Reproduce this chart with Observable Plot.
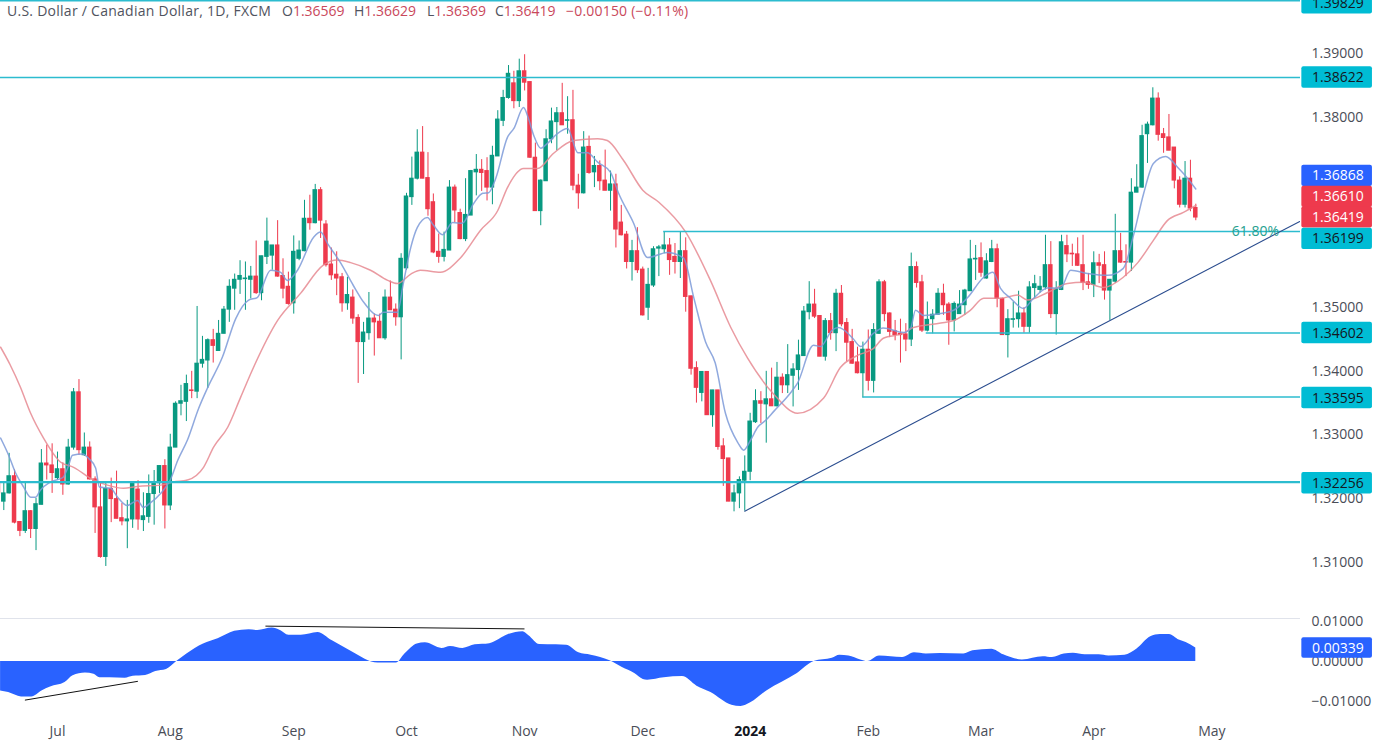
<!DOCTYPE html>
<html>
<head>
<meta charset="utf-8">
<script src="https://cdn.jsdelivr.net/npm/d3@7"></script>
<script src="https://cdn.jsdelivr.net/npm/@observablehq/plot@0.6"></script>
<style>
html,body{margin:0;padding:0;background:#fff;overflow:hidden}
#wrap{position:relative;width:1374px;height:745px}
#wrap svg{display:block;background:transparent}
#legend{position:absolute;left:0;top:0;width:720px;height:22px;font:14px "Open Sans",sans-serif;color:#50535e;white-space:pre;line-height:22px}
#legend span{position:absolute;top:0}
#legend b{font-weight:400;color:#c9485b}
</style>
</head>
<body>
<div id="wrap">
<div id="main"></div>
<div id="osc"></div>
<div id="legend"></div>
</div>
<script>
const open=[1.3224,1.3195,1.3208,1.3235,1.3163,1.3149,1.3180,1.3152,1.3190,1.3255,
1.3252,1.3232,1.3246,1.3222,1.3280,1.3367,1.3268,1.3280,1.3230,1.3186,
1.3108,1.3215,1.3199,1.3169,1.3164,1.3167,1.3214,1.3166,1.3171,1.3207,
1.3224,1.3251,1.3189,1.3280,1.3349,1.3352,1.3370,1.3368,1.3412,1.3417,
1.3449,1.3432,1.3459,1.3497,1.3530,1.3544,1.3545,1.3544,1.3549,1.3523,
1.3580,1.3582,1.3598,1.3550,1.3533,1.3507,1.3577,1.3589,1.3640,1.3633,
1.3685,1.3631,1.3568,1.3552,1.3548,1.3507,1.3516,1.3484,1.3446,1.3460,
1.3483,1.3478,1.3452,1.3516,1.3497,1.3485,1.3562,1.3674,1.3703,1.3744,
1.3704,1.3666,1.3588,1.3580,1.3590,1.3689,1.3649,1.3608,1.3645,1.3713,
1.3717,1.3715,1.3689,1.3738,1.3794,1.3830,1.3853,1.3825,1.3872,1.3855,
1.3736,1.3652,1.3699,1.3765,1.3792,1.3806,1.3794,1.3795,1.3692,1.3680,
1.3753,1.3713,1.3723,1.3700,1.3684,1.3694,1.3634,1.3615,1.3572,1.3589,
1.3560,1.3500,1.3535,1.3593,1.3592,1.3598,1.3580,1.3572,1.3589,1.3518,
1.3405,1.3366,1.3399,1.3331,1.3370,1.3282,1.3263,1.3195,1.3208,1.3228,
1.3242,1.3320,1.3353,1.3348,1.3356,1.3345,1.3390,1.3378,1.3393,1.3402,
1.3424,1.3493,1.3505,1.3487,1.3423,1.3479,1.3460,1.3522,1.3476,1.3446,
1.3414,1.3397,1.3434,1.3385,1.3459,1.3540,1.3491,1.3463,1.3459,1.3458,
1.3450,1.3564,1.3540,1.3464,1.3482,1.3489,1.3522,1.3505,1.3480,1.3490,
1.3504,1.3526,1.3576,1.3578,1.3546,1.3572,1.3592,1.3514,1.3457,1.3481,
1.3482,1.3491,1.3470,1.3531,1.3528,1.3532,1.3567,1.3490,1.3528,1.3597,
1.3585,1.3584,1.3567,1.3540,1.3536,1.3570,1.3567,1.3527,1.3541,1.3589,
1.3572,1.3571,1.3681,1.3689,1.3773,1.3787,1.3829,1.3773,1.3768,1.3752,
1.3700,1.3662,1.3703,1.36569];
const close=[1.3208,1.3208,1.3235,1.3162,1.3149,1.3180,1.3152,1.3191,1.3255,1.3252,
1.3240,1.3246,1.3222,1.3280,1.3367,1.3276,1.3280,1.3230,1.3186,1.3108,
1.3215,1.3199,1.3168,1.3164,1.3167,1.3223,1.3167,1.3172,1.3207,1.3225,
1.3251,1.3189,1.3280,1.3349,1.3353,1.3380,1.3369,1.3412,1.3418,1.3449,
1.3440,1.3459,1.3497,1.3533,1.3544,1.3550,1.3546,1.3549,1.3523,1.3581,
1.3604,1.3598,1.3549,1.3530,1.3506,1.3588,1.3590,1.3640,1.3633,1.3685,
1.3637,1.3567,1.3551,1.3546,1.3507,1.3520,1.3483,1.3446,1.3461,1.3483,
1.3477,1.3452,1.3516,1.3496,1.3485,1.3577,1.3675,1.3703,1.3744,1.3703,
1.3655,1.3587,1.3580,1.3591,1.3689,1.3653,1.3608,1.3646,1.3715,1.3717,
1.3712,1.3689,1.3739,1.3796,1.3830,1.3868,1.3825,1.3872,1.3854,1.3736,
1.3652,1.3700,1.3765,1.3793,1.3806,1.3787,1.3795,1.3692,1.3680,1.3752,
1.3712,1.3723,1.3699,1.3684,1.3694,1.3623,1.3614,1.3572,1.3589,1.3559,
1.3488,1.3536,1.3592,1.3595,1.3598,1.3575,1.3572,1.3589,1.3517,1.3404,
1.3374,1.3399,1.3331,1.3370,1.3281,1.3262,1.3195,1.3208,1.3229,1.3242,
1.3321,1.3353,1.3349,1.3356,1.3345,1.3390,1.3378,1.3394,1.3403,1.3425,
1.3494,1.3505,1.3486,1.3423,1.3479,1.3460,1.3522,1.3474,1.3445,1.3412,
1.3397,1.3434,1.3385,1.3465,1.3540,1.3490,1.3462,1.3457,1.3457,1.3450,
1.3564,1.3539,1.3464,1.3481,1.3489,1.3522,1.3504,1.3480,1.3506,1.3505,
1.3527,1.3576,1.3577,1.3555,1.3573,1.3592,1.3514,1.3457,1.3482,1.3482,
1.3491,1.3470,1.3532,1.3537,1.3533,1.3567,1.3490,1.3529,1.3603,1.3584,
1.3584,1.3566,1.3539,1.3536,1.3570,1.3566,1.3527,1.3544,1.3589,1.3571,
1.3571,1.3681,1.3689,1.3770,1.3788,1.3829,1.3772,1.3767,1.3747,1.3700,
1.3662,1.3703,1.3656,1.36419];
const high=[1.3239,1.3224,1.3271,1.3245,1.3163,1.3226,1.3181,1.3200,1.3277,1.3284,
1.3286,1.3273,1.3256,1.3293,1.3373,1.3387,1.3303,1.3289,1.3234,1.3224,
1.3225,1.3232,1.3243,1.3192,1.3197,1.3226,1.3228,1.3209,1.3237,1.3244,
1.3251,1.3261,1.3301,1.3352,1.3378,1.3394,1.3400,1.3502,1.3455,1.3451,
1.3466,1.3480,1.3502,1.3544,1.3553,1.3574,1.3572,1.3565,1.3605,1.3581,
1.3641,1.3598,1.3637,1.3577,1.3556,1.3613,1.3605,1.3669,1.3677,1.3694,
1.3689,1.3637,1.3594,1.3588,1.3554,1.3548,1.3528,1.3489,1.3477,1.3524,
1.3490,1.3490,1.3528,1.3542,1.3506,1.3585,1.3680,1.3737,1.3780,1.3785,
1.3744,1.3679,1.3616,1.3619,1.3700,1.3693,1.3655,1.3703,1.3716,1.3741,
1.3733,1.3736,1.3754,1.3810,1.3842,1.3881,1.3872,1.3891,1.3898,1.3855,
1.3759,1.3701,1.3780,1.3814,1.3815,1.3853,1.3832,1.3842,1.3710,1.3777,
1.3770,1.3738,1.3731,1.3748,1.3715,1.3710,1.3661,1.3620,1.3606,1.3626,
1.3564,1.3562,1.3596,1.3598,1.3619,1.3609,1.3601,1.3619,1.3610,1.3518,
1.3415,1.3399,1.3399,1.3370,1.3370,1.3294,1.3263,1.3221,1.3234,1.3267,
1.3334,1.3371,1.3368,1.3400,1.3405,1.3414,1.3396,1.3442,1.3412,1.3449,
1.3502,1.3541,1.3529,1.3487,1.3483,1.3491,1.3529,1.3535,1.3483,1.3466,
1.3438,1.3446,1.3465,1.3475,1.3544,1.3543,1.3492,1.3480,1.3482,1.3475,
1.3586,1.3572,1.3551,1.3509,1.3497,1.3530,1.3537,1.3508,1.3509,1.3527,
1.3529,1.3606,1.3598,1.3602,1.3585,1.3606,1.3600,1.3515,1.3497,1.3509,
1.3526,1.3500,1.3541,1.3551,1.3549,1.3614,1.3604,1.3541,1.3614,1.3614,
1.3600,1.3610,1.3614,1.3554,1.3588,1.3584,1.3588,1.3544,1.3647,1.3617,
1.3599,1.3703,1.3725,1.3787,1.3792,1.3846,1.3838,1.3782,1.3804,1.3752,
1.3706,1.3730,1.3732,1.36629];
const low=[1.3197,1.3181,1.3207,1.3160,1.3140,1.3145,1.3137,1.3118,1.3190,1.3229,
1.3208,1.3229,1.3205,1.3221,1.3276,1.3268,1.3266,1.3229,1.3145,1.3106,
1.3093,1.3162,1.3168,1.3157,1.3121,1.3153,1.3150,1.3148,1.3161,1.3158,
1.3208,1.3152,1.3181,1.3280,1.3330,1.3321,1.3357,1.3357,1.3405,1.3373,
1.3413,1.3432,1.3459,1.3477,1.3496,1.3521,1.3496,1.3514,1.3521,1.3511,
1.3568,1.3559,1.3548,1.3514,1.3504,1.3490,1.3574,1.3588,1.3622,1.3632,
1.3609,1.3564,1.3543,1.3519,1.3493,1.3496,1.3474,1.3381,1.3395,1.3449,
1.3424,1.3452,1.3449,1.3496,1.3471,1.3418,1.3559,1.3661,1.3701,1.3703,
1.3644,1.3585,1.3570,1.3572,1.3590,1.3634,1.3607,1.3604,1.3645,1.3676,
1.3683,1.3668,1.3662,1.3738,1.3785,1.3828,1.3813,1.3815,1.3841,1.3735,
1.3652,1.3629,1.3699,1.3758,1.3747,1.3787,1.3773,1.3684,1.3655,1.3679,
1.3710,1.3689,1.3684,1.3684,1.3652,1.3594,1.3613,1.3561,1.3542,1.3554,
1.3487,1.3480,1.3532,1.3549,1.3585,1.3551,1.3553,1.3546,1.3493,1.3394,
1.3350,1.3352,1.3331,1.3312,1.3276,1.3219,1.3195,1.3179,1.3184,1.3180,
1.3228,1.3318,1.3318,1.3287,1.3345,1.3344,1.3365,1.3365,1.3344,1.3370,
1.3424,1.3481,1.3483,1.3423,1.3416,1.3449,1.3431,1.3470,1.3415,1.3411,
1.3396,1.3358,1.3369,1.3366,1.3458,1.3478,1.3453,1.3448,1.3413,1.3431,
1.3439,1.3531,1.3461,1.3462,1.3459,1.3489,1.3488,1.3441,1.3462,1.3490,
1.3488,1.3526,1.3543,1.3548,1.3545,1.3571,1.3500,1.3457,1.3421,1.3468,
1.3468,1.3460,1.3460,1.3514,1.3523,1.3528,1.3483,1.3457,1.3527,1.3571,
1.3565,1.3565,1.3527,1.3529,1.3516,1.3538,1.3512,1.3480,1.3538,1.3570,
1.3549,1.3557,1.3681,1.3688,1.3727,1.3786,1.3762,1.3743,1.3747,1.3687,
1.3657,1.3657,1.3651,1.36369];

const fastBars=[0.4,1.9,3.2,4.7,6.0,6.9,7.8,9.7,12.0,12.9,13.8,15.7,16.8,18.1,18.8,20.9,22.2,24.0,25.9,27.0,28.3,30.2,32.0,33.4,35.2,37.3,39.0,41.7,44.2,46.6,48.2,50.7,52.5,53.8,55.7,58.7,60.0,61.3,63.7,66.1,68.0,70.8,71.7,74.3,75.4,76.8,78.0,79.9,81.0,82.7,84.6,86.4,88.5,90.2,91.3,92.6,94.8,96.0,97.8,98.7,99.7,101.0,102.3,104.1,106.0,107.9,109.7,111.6,114.0,115.5,118.3,120.9,124.6,127.6,129.5,131.7,133.5,135.4,137.7,138.8,140.1,141.4,142.9,144.4,147.5,148.8,151.8,153.1,155.3,156.5,159.1,160.6,163.0,164.8,168.6,169.9,170.8,172.3,175.5,177.9,180.5,183.5,185.2,186.6,188.5,190.9,192.8,195.4,197.8,199.7,202.8,206.6,209.5,211.4,213.3,215.1,217.4,219.6,220.7,223.0];
const fastMA=[1.3295,1.3268,1.3240,1.3218,1.3202,1.3202,1.3213,1.3226,1.3233,1.3248,1.3268,1.3270,1.3263,1.3248,1.3218,1.3216,1.3202,1.3189,1.3197,1.3186,1.3193,1.3208,1.3229,1.3260,1.3292,1.3342,1.3375,1.3422,1.3483,1.3512,1.3516,1.3559,1.3556,1.3543,1.3559,1.3611,1.3619,1.3601,1.3571,1.3535,1.3509,1.3488,1.3493,1.3493,1.3538,1.3595,1.3626,1.3642,1.3630,1.3615,1.3634,1.3633,1.3664,1.3680,1.3681,1.3703,1.3768,1.3782,1.3815,1.3798,1.3771,1.3751,1.3759,1.3774,1.3782,1.3744,1.3744,1.3729,1.3713,1.3680,1.3633,1.3579,1.3587,1.3578,1.3516,1.3446,1.3413,1.3334,1.3288,1.3276,1.3292,1.3312,1.3323,1.3337,1.3366,1.3381,1.3441,1.3439,1.3465,1.3469,1.3452,1.3439,1.3460,1.3468,1.3461,1.3468,1.3496,1.3488,1.3491,1.3496,1.3516,1.3548,1.3556,1.3531,1.3515,1.3499,1.3515,1.3531,1.3531,1.3559,1.3554,1.3551,1.3562,1.3614,1.3680,1.3727,1.3738,1.3721,1.3711,1.36868];
const slowBars=[0.4,2.2,4.1,6.0,8.4,11.6,14.0,17.7,20.3,23.3,25.9,30.2,32.6,35.2,38.2,40.1,42.7,45.1,47.5,52.0,56.3,60.5,63.1,65.6,69.3,72.5,74.3,76.8,78.6,82.3,86.0,89.8,93.0,94.8,97.8,100.4,103.4,107.1,111.6,113.4,116.4,120.0,123.0,128.0,132.6,136.4,139.5,144.4,148.8,153.7,156.8,160.0,163.0,164.8,168.6,170.4,175.5,177.9,181.0,183.5,186.6,189.8,191.7,195.4,199.1,202.1,205.8,209.5,212.2,215.1,217.7,220.7,223.0];
const slowMA=[1.3438,1.3410,1.3375,1.3334,1.3295,1.3257,1.3249,1.3229,1.3221,1.3216,1.3219,1.3221,1.3226,1.3229,1.3249,1.3281,1.3312,1.3359,1.3406,1.3480,1.3523,1.3567,1.3575,1.3571,1.3559,1.3543,1.3538,1.3553,1.3559,1.3556,1.3578,1.3622,1.3653,1.3689,1.3719,1.3719,1.3743,1.3763,1.3766,1.3763,1.3732,1.3685,1.3666,1.3619,1.3543,1.3469,1.3421,1.3364,1.3334,1.3358,1.3406,1.3425,1.3436,1.3452,1.3460,1.3469,1.3476,1.3480,1.3496,1.3515,1.3515,1.3520,1.3512,1.3524,1.3538,1.3540,1.3532,1.3548,1.3571,1.3606,1.3637,1.3650,1.36610];

const oscBars=[0.4,1.9,4.3,6.2,8.1,9.7,12.4,13.9,16.2,17.8,18.9,20.8,23.6,25.1,27.4,29.3,31.3,33.2,35.1,38.2,40.9,44.0,46.7,48.3,51.0,52.5,54.1,56.4,59.5,62.2,66.0,68.3,70.7,74.1,75.7,78.0,79.5,82.6,84.2,86.5,88.8,91.5,95.0,97.7,98.8,100.8,103.9,105.8,108.1,110.4,113.9,116.2,118.5,120.1,120.9,124.0,127.4,130.1,132.7,136.6,138.3,140.1,143.1,148.8,151.9,155.3,156.7,158.4,160.6,161.9,164.1,168.4,170.6,172.8,175.4,179.8,181.5,185.0,187.2,190.7,194.6,196.3,198.5,200.2,202.4,205.0,206.8,209.8,212.0,214.6,216.4,218.1,219.9,221.2,223.0];
const oscValues=[-0.0074,-0.0078,-0.0089,-0.0089,-0.0074,-0.0064,-0.0053,-0.0036,-0.0029,-0.0032,-0.0041,-0.0041,-0.0042,-0.0037,-0.0035,-0.0025,-0.0020,0,0.0019,0.0044,0.0057,0.0076,0.0080,0.0078,0.0084,0.0078,0.0066,0.0066,0.0073,0.0052,0.0023,0.0006,-0.0004,-0.0004,0.0019,0.0044,0.0047,0.0033,0.0038,0.0033,0.0042,0.0045,0.0068,0.0075,0.0065,0.0043,0.0042,0.0041,0.0022,0.0016,0.0002,-0.0015,-0.0030,-0.0045,-0.0047,-0.0041,-0.0038,-0.0062,-0.0078,-0.0110,-0.0113,-0.0104,-0.0074,-0.0030,0,0.0008,0.0016,0.0014,0.0004,0,0.0014,0.0010,0.0022,0.0019,0.0020,0.0019,0.0027,0.0031,0.0017,0.0004,0.0012,0.0010,0.0019,0.0021,0.0017,0.0017,0.0014,0.0016,0.0031,0.0062,0.0068,0.0068,0.0054,0.0048,0.00339];

const levelPrices=[1.39829,1.38622,1.36199,1.34602,1.33595,1.32256];
const levelStarts=[0.385,0.385,123.9,172.8,161,0.385];
const levelWidths=[1.5,1.5,1.5,1.5,1.5,2.3];
const levelEnd=242.5;
const fibText="61.80%";
const trendBars=[139,243.1];
const trendPrices=[1.3180,1.3639];
const divergenceA={bars:[5.0,25.9],values:[-0.0097,-0.0050]};
const divergenceB={bars:[49.8,97.9],values:[0.0089,0.0082]};

const boxValues=["1.39829","1.38622","1.36868","1.36610","1.36419","1.36199","1.34602","1.33595","1.32256"];
const boxCentres=[1.39790,1.38622,1.37074,1.36744,1.36422,1.36084,1.34602,1.33580,1.32240];
const boxKinds=["level","level","fast","slow","slow","level","level","level","level"];
const priceTicks=[1.39,1.38,1.35,1.34,1.33,1.32,1.31];
const oscTicks=[0.01,0,-0.01];
const monthBars=[11,32,55,76,98,120,162,183,204,226];
const monthLabels=["Jul","Aug","Sep","Oct","Nov","Dec","Feb","Mar","Apr","May"];
const yearBars=[140];
const yearLabels=["2024"];
const legendName="U.S. Dollar / Canadian Dollar, 1D, FXCM";
const legendKeys=["O","H","L","C"];
const legendValues=["1.36569","1.36629","1.36369","1.36419"];
const legendChange="\u22120.00150 (\u22120.11%)";

const FONT='"Open Sans",sans-serif';
const GREEN="#089981",RED="#ee3a4d",TEAL="#2cbccf",BLUE="#2962ff",TEXT="#4a4d57";
const candles=open.map((o,i)=>({i,o,c:close[i],h:high[i],l:low[i],dir:close[i]>=o?"up":"down"}));
const xDomain=[0.385,242.5];
const colorScale={domain:["up","down"],range:[GREEN,RED]};
const kindFill={level:"#00bcd4",fast:BLUE,slow:RED};
const boxes=boxValues.map((t,k)=>({t,y:boxCentres[k],kind:boxKinds[k]}));
const levels=levelPrices.map((p,k)=>({p,s:levelStarts[k],w:levelWidths[k]}));
const pairs=(a,b)=>a.map((v,k)=>({x:v,y:b[k]}));

const main=Plot.plot({
  width:1374,height:618,marginTop:0,marginBottom:0,marginLeft:0,marginRight:74,
  style:{fontFamily:FONT,fontSize:"14px",background:"transparent",overflow:"visible"},
  x:{domain:xDomain,axis:null},
  y:{domain:[1.30112,1.39833],axis:null},
  color:colorScale,
  marks:[
    Plot.ruleX(candles,{x:"i",y1:"l",y2:"h",stroke:"dir",strokeWidth:1,clip:true}),
    Plot.rect(candles,{x1:d=>d.i-0.42,x2:d=>d.i+0.42,y1:"o",y2:"c",fill:"dir",insetTop:-0.5,insetBottom:-0.5,clip:true}),
    Plot.line(pairs(slowBars,slowMA),{x:"x",y:"y",stroke:"#e68a92",strokeWidth:1.5,strokeOpacity:0.85,curve:"monotone-x",clip:true}),
    Plot.line(pairs(fastBars,fastMA),{x:"x",y:"y",stroke:"#7d9ad8",strokeWidth:1.5,strokeOpacity:0.85,curve:"monotone-x",clip:true}),
    ...levels.map(l=>Plot.ruleY([l.p],{x1:l.s,x2:levelEnd,stroke:TEAL,strokeWidth:l.w,clip:true})),
    Plot.line(pairs(trendBars,trendPrices),{x:"x",y:"y",stroke:"#2b4d8f",strokeWidth:1.1,clip:true}),
    Plot.text([fibText],{x:229.7,y:1.36199,text:d=>d,textAnchor:"start",fill:"#26a08f",fontSize:14}),
    Plot.axisY({anchor:"right",ticks:priceTicks,tickSize:0,tickPadding:11,tickFormat:d=>d.toFixed(5),color:TEXT,label:null}),
    Plot.rect(boxes,{x1:242.75,x2:255.9,y1:d=>d.y-0.00165,y2:d=>d.y+0.00165,fill:d=>kindFill[d.kind],rx:2,insetTop:-0.2,insetBottom:-0.2}),
    Plot.text(boxes,{x:244.65,y:"y",text:"t",textAnchor:"start",fill:d=>d.kind==="level"?"#131722":"#ffffff",fontSize:14})
  ]
});
document.getElementById("main").appendChild(main);

const osc=Plot.plot({
  width:1374,height:127,marginTop:0,marginBottom:30,marginLeft:0,marginRight:74,
  style:{fontFamily:FONT,fontSize:"14px",background:"transparent",overflow:"visible"},
  x:{domain:xDomain,axis:null},
  y:{domain:[-0.01358,0.01082],axis:null},
  marks:[
    Plot.ruleY([0.01082],{x1:0.385,x2:242.5,stroke:"#e0e3eb",strokeWidth:1}),
    Plot.areaY(pairs(oscBars,oscValues),{x:"x",y1:0,y2:"y",fill:BLUE,curve:"monotone-x",clip:true}),
    Plot.line(pairs(divergenceA.bars,divergenceA.values),{x:"x",y:"y",stroke:"#111",strokeWidth:1}),
    Plot.line(pairs(divergenceB.bars,divergenceB.values),{x:"x",y:"y",stroke:"#111",strokeWidth:1}),
    Plot.axisY({anchor:"right",ticks:oscTicks,tickSize:0,tickPadding:11,tickFormat:d=>d<0?"\u2212"+Math.abs(d).toFixed(5):d.toFixed(5),color:TEXT,label:null}),
    Plot.rect(["0.00339"],{x1:242.75,x2:255.9,y1:0.00339-0.0026,y2:0.00339+0.0026,fill:BLUE,rx:2}),
    Plot.text(["0.00339"],{x:244.65,y:0.00339,text:d=>d,textAnchor:"start",fill:"#fff",fontSize:14}),
    Plot.axisX({anchor:"bottom",ticks:monthBars,tickSize:0,tickPadding:11,tickFormat:d=>monthLabels[monthBars.indexOf(d)],color:TEXT,label:null}),
    Plot.axisX({anchor:"bottom",ticks:yearBars,tickSize:0,tickPadding:11,tickFormat:d=>yearLabels[yearBars.indexOf(d)],color:"#131722",fontWeight:"bold",label:null})
  ]
});
document.getElementById("osc").appendChild(osc);

const keyLeft=[282,354,427,495];
document.getElementById("legend").innerHTML=
 '<span style="left:7px;letter-spacing:.26px">'+legendName+'</span>'+
 legendKeys.map((k,n)=>'<span style="left:'+keyLeft[n]+'px">'+k+'<b>'+legendValues[n]+'</b></span>').join('')+
 '<span style="left:566px;letter-spacing:.2px"><b>'+legendChange+'</b></span>';
</script>
</body>
</html>
